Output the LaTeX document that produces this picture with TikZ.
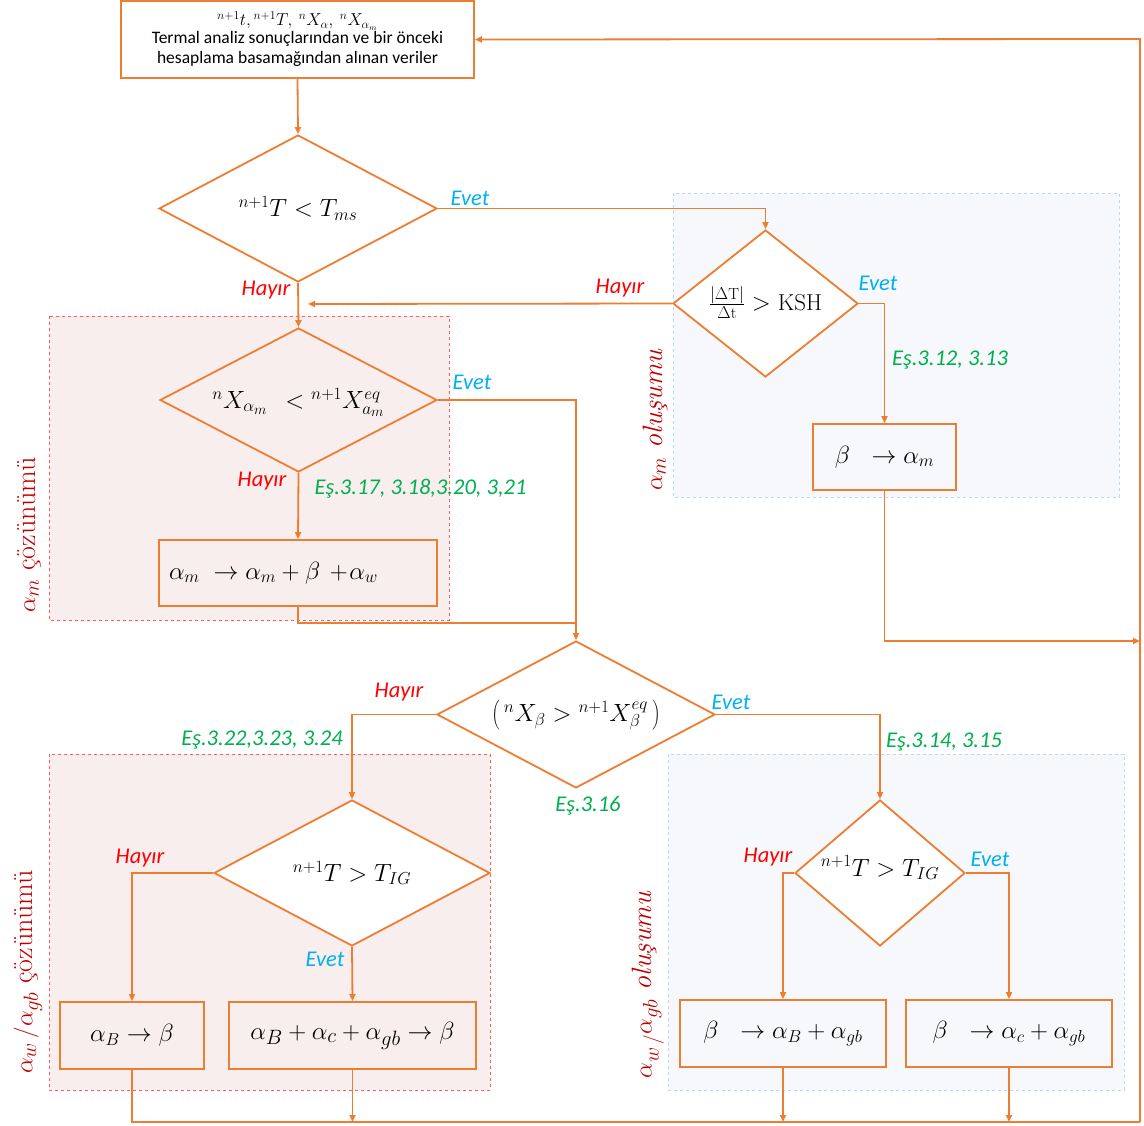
\documentclass[tikz,border=0pt]{standalone}
\usepackage{fontspec}
\setsansfont{Carlito}
\usetikzlibrary{shapes.geometric,arrows.meta}
\definecolor{org}{HTML}{ED7D31}
\definecolor{evetc}{HTML}{00B0F0}
\definecolor{hayirc}{HTML}{FF0000}
\definecolor{esc}{HTML}{00B050}
\definecolor{grpc}{HTML}{C00000}
\definecolor{redbox}{HTML}{FF5B5B}
\definecolor{redfill}{HTML}{F8EEEE}
\definecolor{bluebox}{HTML}{BDD7EE}
\definecolor{bluefill}{HTML}{F6F8FB}
\newcommand{\dtext}[2][-0.3em]{\smash{\makebox[0pt]{\raisebox{#1}{#2}}}}
\tikzset{
  flow/.style={draw=org, line width=1.8pt},
  arr/.style={flow, -{Triangle[length=7pt,width=6pt]}},
  dia/.style={diamond, draw=org, line width=1.8pt, inner sep=0pt, fill=white},
  stepbox/.style={draw=org, line width=1.8pt, inner sep=0pt},
  evet/.style={text=evetc, font=\sffamily\itshape\fontsize{22.5}{26}\selectfont},
  hayir/.style={text=hayirc, font=\sffamily\itshape\fontsize{22.5}{26}\selectfont},
  esl/.style={text=esc, font=\sffamily\itshape\fontsize{22.5}{26}\selectfont},
  grp/.style={text=grpc, rotate=90, font=\fontsize{28}{32}\selectfont},
  redgrp/.style={draw=redbox, dashed, line width=0.8pt, fill=redfill},
  bluegrp/.style={draw=bluebox, dashed, line width=0.8pt, fill=bluefill},
}
\begin{document}
\begin{tikzpicture}[x=1pt, y=-1pt]
\useasboundingbox (0,0) rectangle (1144,1126);
% group backgrounds
\draw[redgrp] (49,316) rectangle (449,620);
\draw[bluegrp] (673,193) rectangle (1119,497);
\draw[redgrp] (49,754) rectangle (490,1090);
\draw[bluegrp] (668,754) rectangle (1124,1090);
% group labels
\node[grp] (g1) at (29,535) {$\alpha_m$ çözünümü};
\node[grp] (g2) at (655,420) {$\alpha_m$ \textit{oluşumu}};
\node[grp] (g3) at (28,972) {$\alpha_w\,/\alpha_{gb}$ çözünümü};
\node[grp] (g4) at (648,985) {$\alpha_{w\,/}\alpha_{gb}$ \textit{oluşumu}};
% top box
\node[stepbox, minimum width=353pt, minimum height=77pt, align=center,
  font=\sffamily\fontsize{17.5}{20}\selectfont] (top) at (297.5,39.5)
  {\fontsize{17}{19}\selectfont$^{n+1}t,{}^{n+1}T,\ {}^{n}X_{\alpha},\ {}^{n}X_{\alpha_m}$\\[-2pt]
   Termal analiz sonuçlarından ve bir önceki\\ hesaplama basamağından alınan veriler};
% diamonds
\node[dia, minimum width=278pt, minimum height=147pt, font=\fontsize{26}{30}\selectfont] (d1) at (298,208.5) {\dtext{$^{n+1}T < T_{ms}$}};
\node[dia, minimum width=185pt, minimum height=147pt, font=\fontsize{23}{26}\selectfont] (d2) at (765.5,303.5) {\dtext{$\frac{|\Delta\mathrm{T}|}{\Delta\mathrm{t}} > \mathrm{KSH}$}};
\node[dia, minimum width=277pt, minimum height=144pt, fill=none, font=\fontsize{27}{30}\selectfont] (d3) at (298.5,400) {\dtext{$^{n}X_{\alpha_m}\;\,<{}^{n+1}X^{eq}_{a_m}$}};
\node[dia, minimum width=278pt, minimum height=147pt, font=\fontsize{23}{26}\selectfont] (d4) at (576,714.5) {\dtext{$\left(\,{}^{n}X_{\beta} > {}^{n+1}X^{eq}_{\beta}\,\right)$}};
\node[dia, minimum width=276pt, minimum height=146pt, font=\fontsize{27}{30}\selectfont] (d5) at (352,873) {\dtext{$^{n+1}T > T_{IG}$}};
\node[dia, minimum width=170pt, minimum height=146pt, font=\fontsize{25}{28}\selectfont] (d6) at (880,873) {\dtext[-0.12em]{$^{n+1}T > T_{IG}$}};
% boxes
\node[stepbox, minimum width=278pt, minimum height=66pt, font=\fontsize{26}{30}\selectfont] (b1) at (298,573)
  {\makebox[258pt][l]{$\alpha_m \;\rightarrow \alpha_m + \beta \,+\!\alpha_w$}};
\node[stepbox, minimum width=143pt, minimum height=66pt, font=\fontsize{26}{30}\selectfont] (b2) at (884.5,457) {$\beta\ \;\rightarrow \alpha_m$};
\node[stepbox, minimum width=144pt, minimum height=67pt, font=\fontsize{26}{30}\selectfont] (b3) at (132,1035.5) {$\alpha_B \rightarrow \beta$};
\node[stepbox, minimum width=247pt, minimum height=67pt, font=\fontsize{27.5}{30}\selectfont] (b4) at (352.5,1035.5) {$\alpha_B + \alpha_c + \alpha_{gb} \rightarrow \beta$};
\node[stepbox, minimum width=206pt, minimum height=67pt, font=\fontsize{26.5}{30}\selectfont] (b5) at (783,1033.5) {$\beta\ \;\rightarrow \alpha_B + \alpha_{gb}$};
\node[stepbox, minimum width=206pt, minimum height=67pt, font=\fontsize{26.5}{30}\selectfont] (b6) at (1009,1033.5) {$\beta\ \;\rightarrow \alpha_c + \alpha_{gb}$};
% helper coordinates
\coordinate (hj) at (308,304);
\coordinate (j1) at (576,623);
\coordinate (rj) at (1140,641);
\coordinate (tr) at (1140,39);
\coordinate (br) at (1140,1122);
% connectors
\draw[arr] (top.south) -- (d1.north);
\draw[arr] (d1.east) -| (d2.north);
\draw[arr] (d2.west) -- (hj);
\draw[arr] (d1.south) -- (d3.north);
\draw[arr] (d3.east) -| (d4.north);
\draw[arr] (d3.south) -- (b1.north);
\draw[flow] (b1.south) |- (j1);
\draw[arr] (d2.east) -| (b2.north);
\draw[arr] (b2.south) |- (rj);
\draw[arr] (d4.west) -| (d5.north);
\draw[arr] (d4.east) -| (d6.north);
\draw[arr] (d5.west) -| (b3.north);
\draw[arr] (d5.south) -- (b4.north);
\draw[arr] (d6.west) -| (b5.north);
\draw[arr] (d6.east) -| (b6.north);
\draw[flow] (b3.south) |- (br);
\draw[arr] (b4.south) -- (b4.south |- br);
\draw[arr] (b5.south) -- (b5.south |- br);
\draw[arr] (b6.south) -- (b6.south |- br);
\draw[arr] (br) -- (tr) -- (top.east);
% labels
\node[evet] (l1) at (470,198) {Evet};
\node[hayir] (l2) at (266,290) {Hayır};
\node[hayir] (l3) at (620,288) {Hayır};
\node[evet] (l4) at (878,283) {Evet};
\node[esl] (l5) at (950,360) {Eş.3.12, 3.13};
\node[evet] (l6) at (472,382) {Evet};
\node[hayir] (l7) at (262,481) {Hayır};
\node[esl, anchor=west] (l8) at (311,489) {Eş.3.17, 3.18,3.20, 3,21};
\node[hayir] (l9) at (399,692) {Hayır};
\node[evet] (l10) at (731,702) {Evet};
\node[esl] (l11) at (262,740) {Eş.3.22,3.23, 3.24};
\node[esl] (l12) at (944,742) {Eş.3.14, 3.15};
\node[esl] (l13) at (588,806) {Eş.3.16};
\node[hayir] (l14) at (140,858) {Hayır};
\node[evet] (l15) at (325,959) {Evet};
\node[hayir] (l16) at (768,857) {Hayır};
\node[evet] (l17) at (990,859) {Evet};
\end{tikzpicture}
\end{document}
